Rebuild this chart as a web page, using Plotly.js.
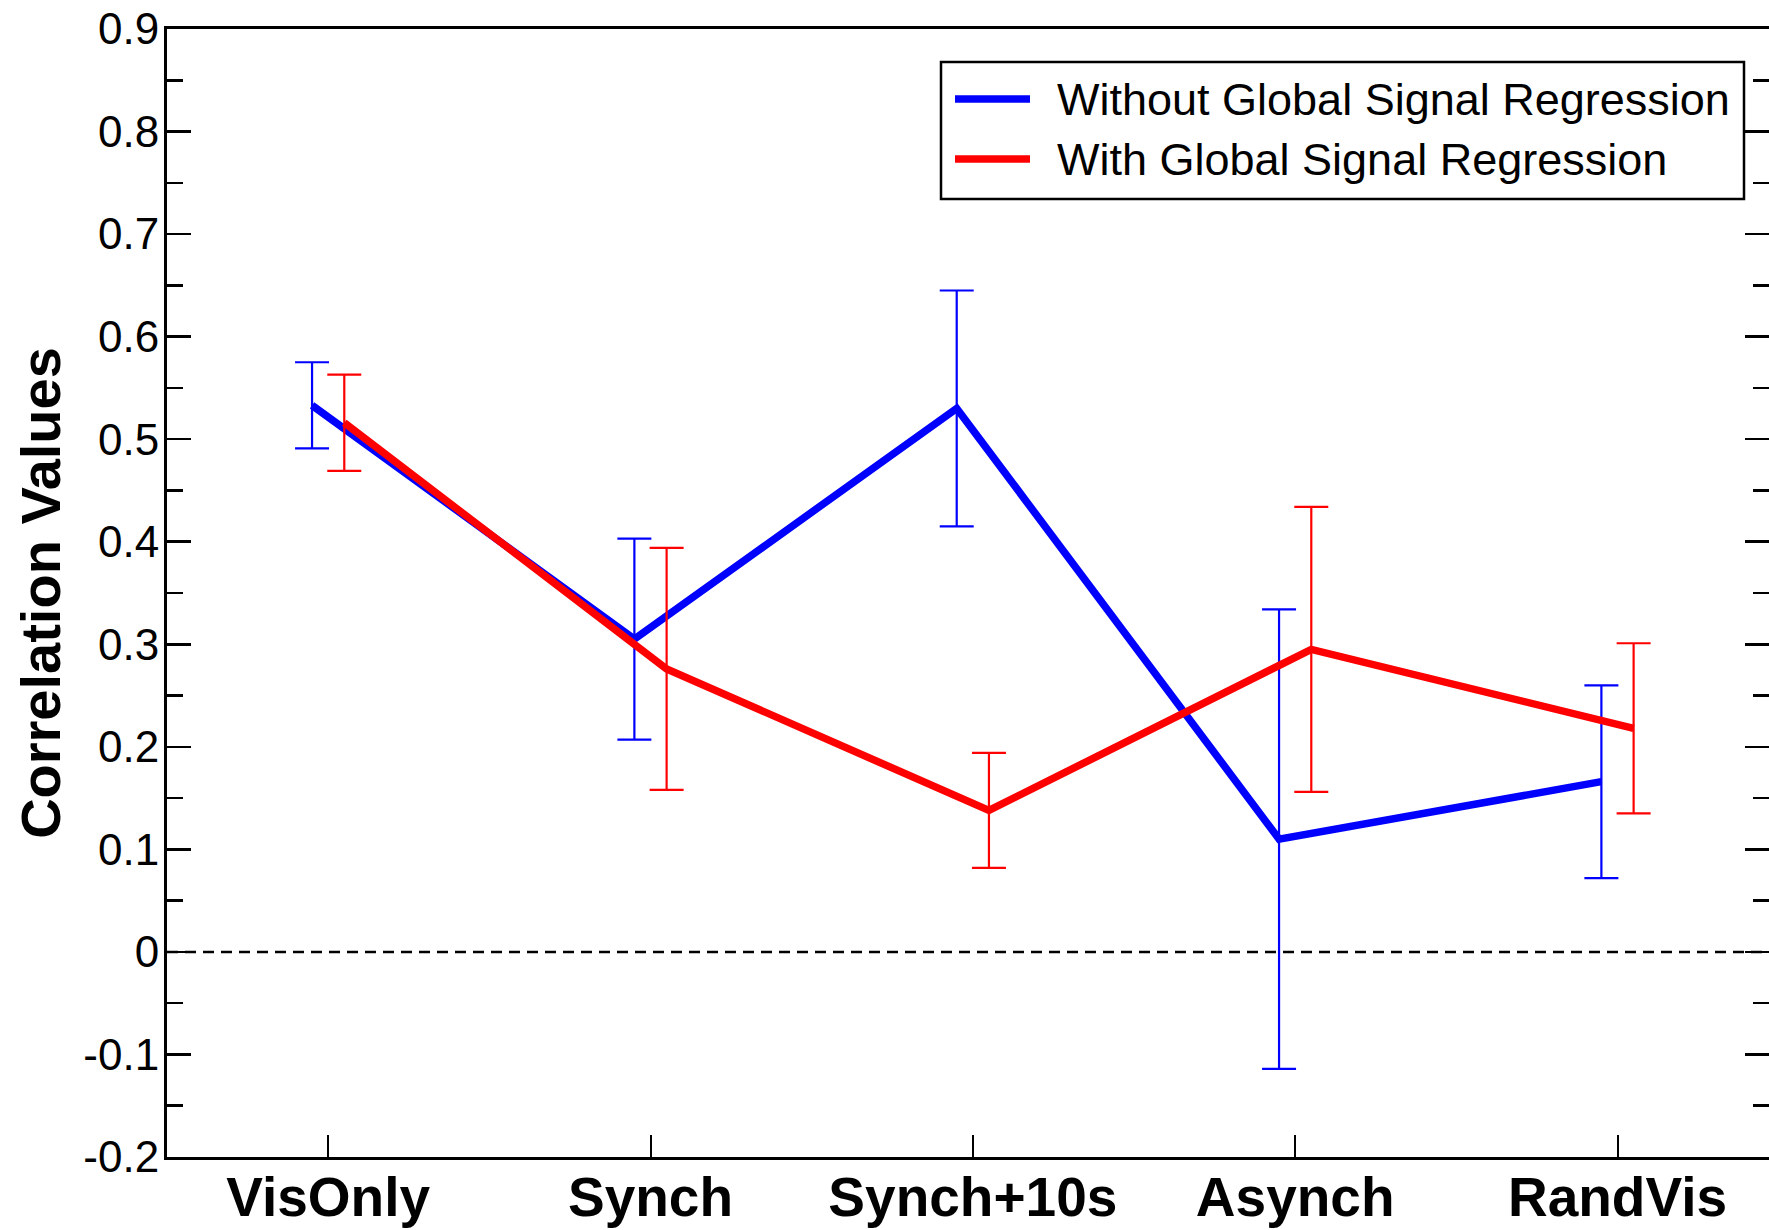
<!DOCTYPE html>
<html>
<head>
<meta charset="utf-8">
<script src="https://cdn.plot.ly/plotly-3.0.1.min.js"></script>
<style>html,body{margin:0;padding:0;background:#fff;}#chart{width:1769px;height:1230px;}</style>
</head>
<body>
<div id="chart"></div>
<script>
// ---- data ----
const categories = ['VisOnly', 'Synch', 'Synch+10s', 'Asynch', 'RandVis'];
const seriesNames = ['Without Global Signal Regression', 'With Global Signal Regression'];
const withoutGSR = [0.533, 0.305, 0.530, 0.110, 0.166];
const withoutGSRErr = [0.042, 0.098, 0.115, 0.224, 0.094];
const withGSR = [0.516, 0.276, 0.138, 0.295, 0.218];
const withGSRErr = [0.047, 0.118, 0.056, 0.139, 0.083];
const yTickVals = [-0.2, -0.1, 0, 0.1, 0.2, 0.3, 0.4, 0.5, 0.6, 0.7, 0.8, 0.9];
const yTickText = ['-0.2', '-0.1', '0', '0.1', '0.2', '0.3', '0.4', '0.5', '0.6', '0.7', '0.8', '0.9'];
const yAxisTitle = 'Correlation Values';

// ---- layout constants ----
const W = 1769, H = 1230;
const M = {l: 167, r: 0, t: 29, b: 73};
const plotW = W - M.l - M.r, plotH = H - M.t - M.b;
const px2x = px => (px - M.l) / plotW;
const px2y = py => (H - M.b - py) / plotH;
const colors = ['#0000ff', '#ff0000'];
const offsets = [-0.05, 0.05];
const FONT = 'Liberation Sans, Arial, Helvetica, sans-serif';

const catIdx = categories.map((_, i) => i);
const minorVals = [];
for (let i = 0; i < yTickVals.length - 1; i++) minorVals.push((yTickVals[i] + yTickVals[i + 1]) / 2);

const series = [[withoutGSR, withoutGSRErr], [withGSR, withGSRErr]];
const traces = series.map(([vals, errs], k) => ({
  type: 'scatter', mode: 'lines',
  name: seriesNames[k],
  x: catIdx.map(i => i + offsets[k]),
  y: vals,
  line: {color: colors[k], width: 7.5},
  error_y: {type: 'data', array: errs, visible: true, color: colors[k], thickness: 2.2, width: 17},
  showlegend: false, hoverinfo: 'skip'
}));
// invisible trace to carry the right-hand tick axis
traces.push({type: 'scatter', mode: 'lines', x: catIdx, y: withoutGSR, yaxis: 'y2',
  opacity: 0, showlegend: false, hoverinfo: 'skip'});

const yCommon = {
  range: [-0.2, 0.9], tickmode: 'array', tickvals: yTickVals,
  ticks: 'inside', ticklen: 24, tickwidth: 2.5, tickcolor: '#000',
  minor: {tickmode: 'array', tickvals: minorVals, ticks: 'inside', ticklen: 16, tickwidth: 2.5, tickcolor: '#000', showgrid: false},
  showgrid: false, zeroline: false, fixedrange: true
};

// manual legend
const shapes = [
  {type: 'line', xref: 'paper', yref: 'y', x0: 0, x1: 1, y0: 0, y1: 0,
   line: {color: '#000', width: 2.5, dash: '11px,7px'}, layer: 'below'},
  {type: 'rect', xref: 'paper', yref: 'paper', x0: px2x(941), x1: px2x(1744), y0: px2y(199), y1: px2y(62),
   line: {color: '#000', width: 2.5}, fillcolor: '#fff'}
];
const legendRows = [99, 159];
const annotations = [];
seriesNames.forEach((nm, k) => {
  shapes.push({type: 'line', xref: 'paper', yref: 'paper', x0: px2x(955), x1: px2x(1030),
    y0: px2y(legendRows[k]), y1: px2y(legendRows[k]), line: {color: colors[k], width: 7.5}});
  annotations.push({xref: 'paper', yref: 'paper', x: px2x(1055), y: px2y(legendRows[k]),
    xanchor: 'left', yanchor: 'middle', showarrow: false, text: nm,
    font: {family: FONT, size: 45, color: '#000'}});
});

const layout = {
  width: W, height: H, margin: M,
  paper_bgcolor: '#fff', plot_bgcolor: '#fff',
  showlegend: false,
  xaxis: {
    range: [-0.5, 4.47], tickmode: 'array', tickvals: catIdx, ticktext: categories,
    ticks: 'inside', ticklen: 22, tickwidth: 2, tickcolor: '#000',
    showline: true, linewidth: 3, linecolor: '#000', mirror: true,
    showgrid: false, zeroline: false, fixedrange: true,
    tickfont: {family: FONT, size: 55, weight: 'bold', color: '#000'},
    ticklabelstandoff: -10
  },
  yaxis: Object.assign({}, yCommon, {
    ticktext: yTickText, showline: true, linewidth: 3, linecolor: '#000',
    tickfont: {family: FONT, size: 44, color: '#000'}, ticklabelstandoff: -4,
    title: {text: yAxisTitle, font: {family: FONT, size: 56, weight: 'bold', color: '#000'}, standoff: 5}
  }),
  yaxis2: Object.assign({}, yCommon, {
    overlaying: 'y', side: 'right', anchor: 'x', showline: false, showticklabels: false
  }),
  shapes: shapes,
  annotations: annotations
};

Plotly.newPlot('chart', traces, layout, {staticPlot: true, displayModeBar: false});
</script>
</body>
</html>
